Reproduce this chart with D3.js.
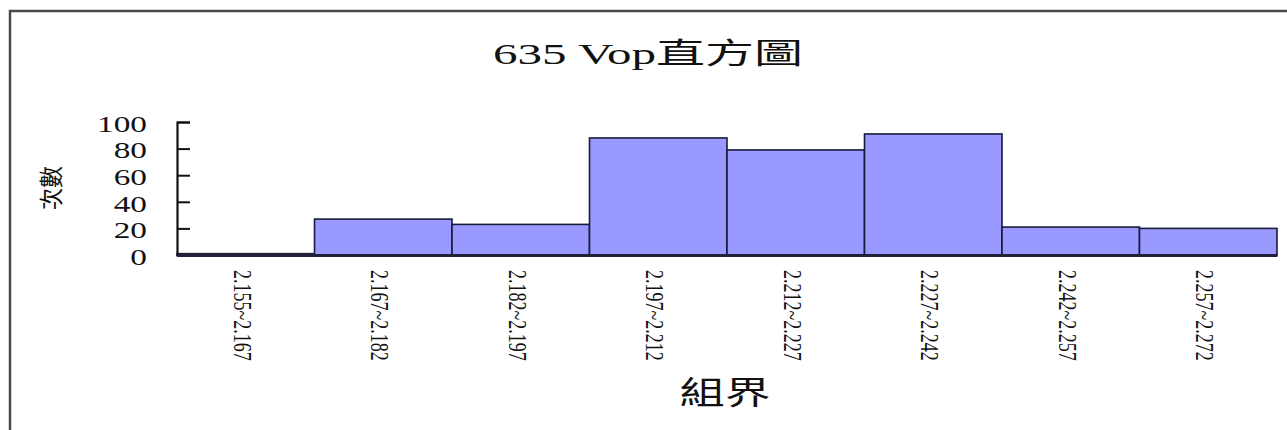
<!DOCTYPE html>
<html lang="zh-Hant">
<head>
<meta charset="utf-8">
<title>635 Vop直方圖</title>
<style>
  html, body { margin: 0; padding: 0; background: #fff; }
  svg { display: block; }
  .serif { font-family: "Liberation Serif", "Times New Roman", "Noto Sans CJK TC", serif; fill: #111; }
  .cjk { font-family: "Noto Sans CJK TC", "Noto Sans CJK SC", sans-serif; fill: #111; }
</style>
<script src="https://cdn.jsdelivr.net/npm/d3@7/dist/d3.min.js"></script>
</head>
<body>
<div id="chart"></div>
<script>
// data
var bins = ["2.155~2.167", "2.167~2.182", "2.182~2.197", "2.197~2.212",
            "2.212~2.227", "2.227~2.242", "2.242~2.257", "2.257~2.272"];
var counts = [1, 27, 23, 88, 79, 91, 21, 20];
var yTicks = [0, 20, 40, 60, 80, 100];

var w = 1287, h = 430;
var stretch = 1.45;   // the original picture is wider than it is tall

var svg = d3.select('#chart').append('svg')
    .attr('width', w)
    .attr('height', h);

// frame of the chart area (only left + top visible)
svg.append('path')
    .attr('d', 'M10,' + h + ' L10,11 L' + w + ',11')
    .attr('fill', 'none')
    .attr('stroke', '#4a4a4a')
    .attr('stroke-width', 2.5);

var x = d3.scaleBand()
    .domain(bins)
    .range([177, 1277])
    .padding(0);

var y = d3.scaleLinear()
    .domain([0, 100])
    .range([255, 122]);

// bars
svg.append('g').selectAll('rect')
    .data(counts)
    .enter()
    .append('rect')
    .attr('x', function(d, i) { return x(bins[i]); })
    .attr('y', function(d) { return y(d); })
    .attr('width', x.bandwidth())
    .attr('height', function(d) { return y(0) - y(d); })
    .attr('fill', '#9999ff')
    .attr('stroke', '#1a1a3a')
    .attr('stroke-width', 1.6);

// y axis, ticks point inward
var yAxis = svg.append('g')
    .attr('transform', 'translate(177,0)')
    .call(d3.axisLeft(y).tickValues(yTicks).tickSize(-13).tickPadding(30));
yAxis.select('.domain').attr('stroke', '#111').attr('stroke-width', 2.2);
yAxis.selectAll('.tick line').attr('stroke', '#111').attr('stroke-width', 2);
yAxis.selectAll('.tick text')
    .attr('class', 'serif')
    .attr('x', 0)
    .attr('dy', '0.4em')
    .attr('transform', 'translate(-30,0) scale(' + stretch + ',1)')
    .style('font-size', '23px')
    .style('font-family', '"Liberation Serif", serif')
    .attr('fill', '#111');

// x axis baseline
var xAxis = svg.append('g')
    .attr('transform', 'translate(0,' + y(0) + ')')
    .call(d3.axisBottom(x).tickSize(0).tickPadding(0));
xAxis.select('.domain').attr('stroke', '#20203a').attr('stroke-width', 3);
xAxis.selectAll('.tick text')
    .attr('class', 'serif')
    .attr('x', 0)
    .attr('y', 0)
    .attr('dy', '0.35em')
    .attr('text-anchor', 'start')
    .attr('transform', 'translate(-3,15) scale(' + stretch + ',1) rotate(90)')
    .style('font-size', '18px')
    .style('font-family', '"Liberation Serif", serif')
    .attr('fill', '#111');

// title
svg.append('text')
    .attr('class', 'serif')
    .attr('x', 0)
    .attr('y', 0)
    .attr('text-anchor', 'middle')
    .attr('transform', 'translate(648,64)')
    .attr('textLength', 310)
    .attr('lengthAdjust', 'spacingAndGlyphs')
    .style('font-size', '29px')
    .text('635 Vop直方圖');

// axis titles
svg.append('text')
    .attr('class', 'cjk')
    .attr('text-anchor', 'middle')
    .attr('transform', 'translate(52,188) scale(1.1,1) rotate(-90)')
    .attr('dy', '0.35em')
    .style('font-size', '22px')
    .text('次數');

svg.append('text')
    .attr('class', 'cjk')
    .attr('text-anchor', 'middle')
    .attr('transform', 'translate(725,404) scale(1.42,1)')
    .style('font-size', '32px')
    .text('組界');
</script>
</body>
</html>
